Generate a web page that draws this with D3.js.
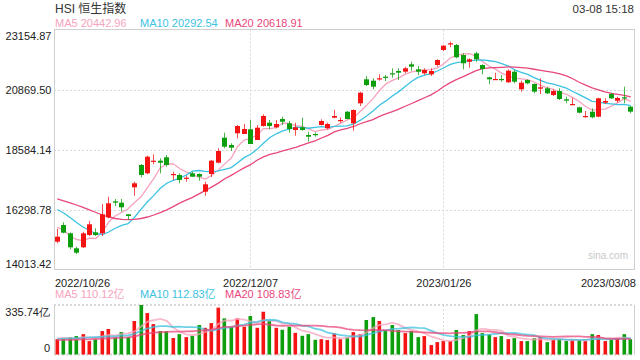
<!DOCTYPE html>
<html><head><meta charset="utf-8">
<script src="https://cdn.jsdelivr.net/npm/d3@7"></script>
<style>
html,body{margin:0;padding:0;background:#fff;}
svg{display:block;font-family:"Liberation Sans",Arial,"Noto Sans CJK SC",sans-serif;}
</style></head><body>
<svg id="c" width="640" height="360"></svg>
<script>
const title = "HSI 恒生指数";
const stamp = "03-08 15:18";
const dates = [
"2022/10/26","2022/10/27","2022/10/28","2022/10/31",
"2022/11/01","2022/11/02","2022/11/03","2022/11/04","2022/11/07","2022/11/08","2022/11/09","2022/11/10","2022/11/11",
"2022/11/14","2022/11/15","2022/11/16","2022/11/17","2022/11/18","2022/11/21","2022/11/22","2022/11/23","2022/11/24","2022/11/25",
"2022/11/28","2022/11/29","2022/11/30",
"2022/12/01","2022/12/02","2022/12/05","2022/12/06","2022/12/07","2022/12/08","2022/12/09","2022/12/12","2022/12/13","2022/12/14",
"2022/12/15","2022/12/16","2022/12/19","2022/12/20","2022/12/21","2022/12/22","2022/12/23","2022/12/28","2022/12/29","2022/12/30",
"2023/01/03","2023/01/04","2023/01/05","2023/01/06","2023/01/09","2023/01/10","2023/01/11","2023/01/12","2023/01/13",
"2023/01/16","2023/01/17","2023/01/18","2023/01/19","2023/01/20","2023/01/26","2023/01/27","2023/01/30","2023/01/31",
"2023/02/01","2023/02/02","2023/02/03","2023/02/06","2023/02/07","2023/02/08","2023/02/09","2023/02/10","2023/02/13","2023/02/14",
"2023/02/15","2023/02/16","2023/02/17","2023/02/20","2023/02/21","2023/02/22","2023/02/23","2023/02/24","2023/02/27","2023/02/28",
"2023/03/01","2023/03/02","2023/03/03","2023/03/06","2023/03/07","2023/03/08"];
const open  = [15072,15708,15392,14821,14859,15328,15430,15392,16002,16611,16558,16116,17144,17994,17678,18146,18158,18287,17613,17613,
  17472,17678,17651,16977,17651,18081,19034,18756,19201,19175,19354,18946,19479,19605,19430,19746,19582,19327,19430,19137,
  19175,19517,19392,19795,19670,20024,19582,20344,21258,21205,21258,21357,21487,21574,21548,21829,21639,21487,21448,21803,
  22374,22591,22565,22184,21928,22248,21803,21334,21231,21270,21144,21548,20877,21231,21079,20900,20915,20660,20812,20496,
  20291,20192,19822,20024,19833,20367,20698,20443,20572,20214];
const high  = [15556,15811,15430,14882,15453,15861,15583,16508,16786,16699,16699,16116,17358,18032,18348,18401,18249,18375,17739,17678,
  17586,17739,17678,17358,18184,18630,19224,18820,19517,19556,19708,19517,19925,19708,19708,19833,19670,19605,19795,19262,
  19239,19734,19605,20089,19811,20051,20115,20786,21384,21296,21448,21422,21677,21677,21738,21928,21765,21677,21677,22020,
  22565,22690,22603,22248,22058,22309,21829,21357,21509,21422,21639,21612,21205,21258,21106,21296,20976,20877,20915,20595,
  20557,20214,20051,20154,20557,20534,20748,20595,20976,20241];
const low   = [15011,15392,14783,14604,14832,15290,15290,15290,15964,16432,16215,15899,16824,17525,17640,18020,17678,17929,17422,17297,
  17358,17537,17396,16824,17537,18059,18630,18527,19011,19175,18794,18946,19453,19354,19392,19517,19224,19110,19300,18881,
  19072,19506,19354,19773,19605,19734,19300,20241,21003,20877,21205,21193,21319,21231,21487,21586,21422,21422,21384,21738,
  22336,22477,22058,21639,21700,21928,21448,21068,21231,21167,21129,21106,20786,21068,20725,20698,20698,20622,20470,20344,
  20291,19963,19795,19773,19811,20317,20508,20367,20344,19963];
const close = [15263,15415,14859,14653,15392,15735,15328,16116,16535,16558,16383,16051,17297,17613,18310,18158,18081,17994,17651,17422,
  17510,17548,17548,17259,18158,18527,18691,18653,19479,19365,18794,19415,19860,19479,19556,19643,19365,19430,19327,19072,
  19137,19670,19556,19860,19708,19746,20089,20748,21041,20976,21296,21334,21448,21509,21677,21738,21548,21612,21574,21993,
  22538,22629,22096,21868,22020,22020,21650,21258,21270,21231,21586,21167,21129,21106,20786,20953,20725,20812,20508,20443,
  20317,19986,19860,19811,20534,20431,20534,20546,20534,20024];
const volume = [104,104,116,125,138,91,102,159,173,116,152,117,227,335.74,281,206,159,159,112,138,
  118,126,200,181,213,318,245,188,245,188,261,181,290,227,181,168,188,147,127,138,
  100,104,98,143,104,116,152,138,234,254,227,166,200,166,145,159,118,125,64,84,
  91,91,166,132,159,274,145,136,118,125,104,111,91,91,111,118,84,102,104,91,
  100,98,91,138,132,91,98,111,138,104];
const ma5Head  = [15621,15518,15290,15156];
const ma10Head = [16299,16165,15994,15804,15632,15499,15385,15347,15442];
const ma20Head = [16699,16630,16554,16470,16383,16287,16185,16089,16013,15956,15926,15914,15926,15956,16013,16089,16181,16287,16409];
const volMa5Head  = [109,113,111,107];
const volMa10Head = [104,107,109,111,113,116,118,120,122];
const volMa20Head = [98,99,100,101,102,103,105,107,110,112,114,116,122,134,143,148,151,154,155];
const priceTicks = [23154.87, 20869.50, 18584.14, 16298.78, 14013.42];
const volTicks = [0, 335.74];
const xTickDates = ["2022/10/26","2022/12/07","2023/01/26","2023/03/08"];
const gridDates = ["2022/12/07","2023/01/26"];
const maNames = ["MA5","MA10","MA20"];
const priceMaLegend = ["20442.96","20292.54","20618.91"];
const volMaLegend = ["110.12亿","112.83亿","108.83亿"];

const maColors = ["#f7a3bd","#3cc2e0","#e8477b"];
const UP = "#f51414", DOWN = "#0d9e0d";
const N = dates.length;
const L = 54, R = 634, T = 29.5, B = 269.5, VT = 305, VB = 354.5;

function movingAvg(vals, n, head){
  return vals.map((v,i)=> i < n-1 ? head[i] : d3.mean(vals.slice(i-n+1, i+1)));
}
const priceMA = [movingAvg(close,5,ma5Head), movingAvg(close,10,ma10Head), movingAvg(close,20,ma20Head)];
const volMA = [movingAvg(volume,5,volMa5Head), movingAvg(volume,10,volMa10Head), movingAvg(volume,20,volMa20Head)];

const svg = d3.select("#c");
const x = d3.scaleBand().domain(d3.range(N)).range([L,R]).padding(0);
const cx = i => x(i) + x.bandwidth()/2;
const y = d3.scaleLinear().domain([priceTicks[4], priceTicks[0]]).range([B,T]);
const vy = d3.scaleLinear().domain([volTicks[0], volTicks[1]]).range([VB,VT]);

// grid
const grid = svg.append("g").attr("stroke","#d8d8d8").attr("stroke-width",1).attr("stroke-dasharray","2,2").attr("fill","none");
grid.selectAll("line.h").data(priceTicks.slice(1,4)).join("line")
  .attr("x1",L).attr("x2",R).attr("y1",d=>Math.round(y(d))+0.5).attr("y2",d=>Math.round(y(d))+0.5);
gridDates.forEach(dt=>{
  const xi = Math.floor(cx(dates.indexOf(dt)))+0.5;
  grid.append("line").attr("x1",xi).attr("x2",xi).attr("y1",T).attr("y2",B);
  grid.append("line").attr("x1",xi).attr("x2",xi).attr("y1",VT).attr("y2",VB);
});
grid.append("line").attr("x1",L).attr("x2",R).attr("y1",VT).attr("y2",VT).attr("stroke-width",2);
grid.append("line").attr("x1",L).attr("x2",R).attr("y1",VB).attr("y2",VB).attr("stroke-width",2);

// borders
svg.append("rect").attr("x",L+0.5).attr("y",T).attr("width",R-L).attr("height",B-T)
  .attr("fill","none").attr("stroke","#cfcfcf");
svg.append("line").attr("x1",L+0.5).attr("x2",L+0.5).attr("y1",VT).attr("y2",VB).attr("stroke","#cfcfcf");
svg.append("line").attr("x1",R+0.5).attr("x2",R+0.5).attr("y1",VT).attr("y2",VB).attr("stroke","#cfcfcf");

// watermark
svg.append("text").attr("x",628).attr("y",259).attr("text-anchor","end").attr("font-size",10)
  .attr("fill","#c8c8c8").text("sina.com");

// MA lines (price)
const line = d3.line().x((d,i)=>cx(i)).y(d=>y(d));
priceMA.forEach((arr,k)=>{
  svg.append("path").attr("d",line(arr)).attr("fill","none").attr("stroke",maColors[k]).attr("stroke-width",1.3);
});

// candles
const data = d3.range(N).map(i=>({i,o:open[i],h:high[i],l:low[i],c:close[i],v:volume[i]}));
const cg = svg.append("g");
const candle = cg.selectAll("g").data(data).join("g");
candle.append("line")
  .attr("x1",d=>Math.floor(cx(d.i))+0.5).attr("x2",d=>Math.floor(cx(d.i))+0.5)
  .attr("y1",d=>y(d.h)).attr("y2",d=>y(d.l))
  .attr("stroke",d=>d.c>=d.o?UP:DOWN).attr("stroke-width",1).attr("opacity",0.75);
candle.append("rect")
  .attr("x",d=>Math.floor(cx(d.i))-2).attr("width",5)
  .attr("y",d=>y(Math.max(d.o,d.c)))
  .attr("height",d=>Math.max(1.2, Math.abs(y(d.o)-y(d.c))))
  .attr("fill",d=>d.c>=d.o?UP:DOWN);

// volume bars
svg.append("g").selectAll("rect").data(data).join("rect")
  .attr("x",d=>Math.floor(cx(d.i))-1.5).attr("width",3.6)
  .attr("y",d=>vy(d.v)).attr("height",d=>vy(0)-vy(d.v))
  .attr("fill",d=>d.c>=d.o?UP:DOWN);

// volume MA lines
const vline = d3.line().x((d,i)=>cx(i)).y(d=>vy(d));
volMA.forEach((arr,k)=>{
  svg.append("path").attr("d",vline(arr)).attr("fill","none").attr("stroke",maColors[k])
    .attr("stroke-width",1.8).attr("opacity",0.75);
});

// y axis (price)
const ya = svg.append("g").attr("transform",`translate(${L},0)`)
  .call(d3.axisLeft(y).tickValues(priceTicks).tickFormat(d3.format(".2f")).tickSize(0).tickPadding(2.5));
ya.select(".domain").remove();
ya.selectAll("text").attr("font-size",11).attr("fill","#222").style("font-family","'Liberation Sans',Arial,sans-serif")
  .attr("dy",(d,i)=> i===0 ? "0.95em" : (i===priceTicks.length-1 ? "-0.2em" : "0.35em"));

// volume axis
const va = svg.append("g").attr("transform",`translate(${L},0)`)
  .call(d3.axisLeft(vy).tickValues(volTicks).tickFormat(d=> d===0 ? "0" : d3.format(".2f")(d)+"亿").tickSize(0).tickPadding(4));
va.select(".domain").remove();
va.selectAll("text").attr("font-size",11).attr("fill","#222")
  .attr("dy",d=> d===0 ? "-0.3em" : "0.95em");

// x axis labels
xTickDates.forEach((dt,k)=>{
  const i = dates.indexOf(dt);
  let xp = cx(i), anchor = "middle";
  if(k===0){ xp = x(i)+1; anchor = "start"; }
  if(k===xTickDates.length-1){ xp = x(i)+x.bandwidth()+2; anchor = "end"; }
  svg.append("text").attr("x",xp).attr("y",286.5).attr("text-anchor",anchor)
    .attr("font-size",11).attr("fill","#222").text(dt);
});

// title and stamp
svg.append("text").attr("x",55).attr("y",12.5).attr("font-size",12).attr("fill","#333").text(title);
svg.append("text").attr("x",634).attr("y",12.5).attr("text-anchor","end").attr("font-size",11.5).attr("fill","#333").text(stamp);

// legends
const legX = [55,140,225];
maNames.forEach((nm,k)=>{
  svg.append("text").attr("x",legX[k]).attr("y",27).attr("font-size",11).attr("fill",maColors[k])
    .text(nm+" "+priceMaLegend[k]);
  svg.append("text").attr("x",legX[k]).attr("y",297.5).attr("font-size",11).attr("fill",maColors[k])
    .text(nm+" "+volMaLegend[k]);
});
</script>
</body></html>
